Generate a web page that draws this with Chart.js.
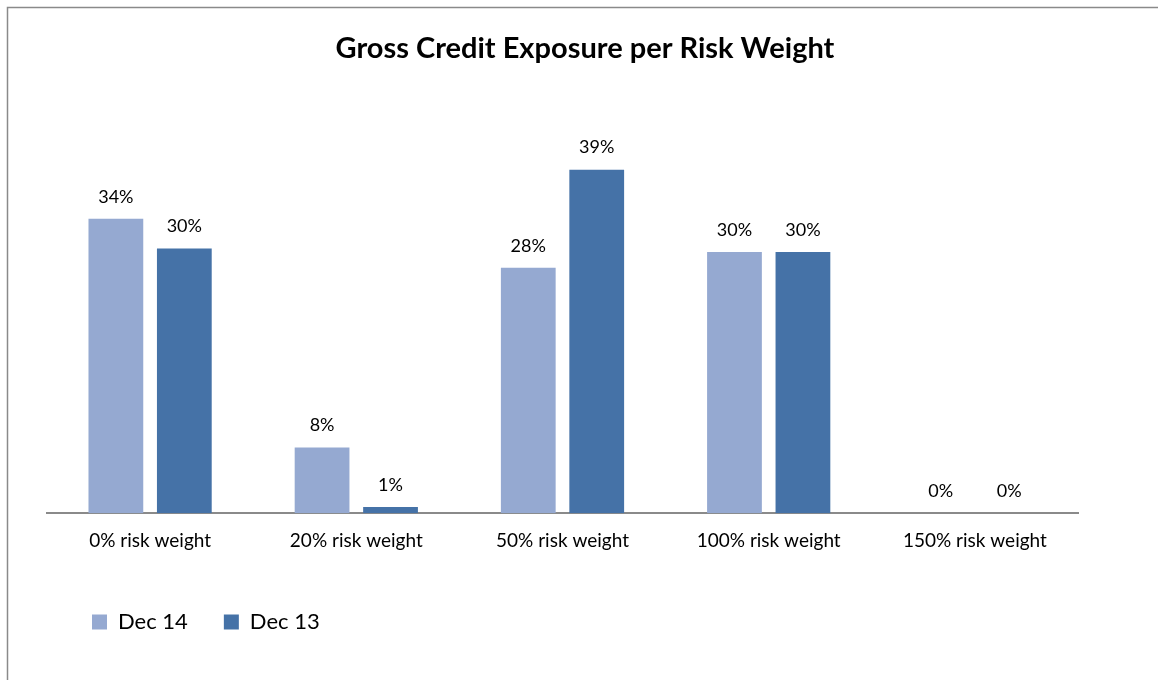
<!DOCTYPE html>
<html>
<head>
<meta charset="utf-8">
<script src="https://cdn.jsdelivr.net/npm/chart.js@4.4.1/dist/chart.umd.min.js"></script>
<style>
  html, body { margin: 0; padding: 0; background: #ffffff; }
  #wrap { width: 1158px; height: 680px; position: relative; }
</style>
</head>
<body>
<div id="wrap"><canvas id="c" width="1158" height="680"></canvas></div>
<script>
const categories = ["0% risk weight", "20% risk weight", "50% risk weight", "100% risk weight", "150% risk weight"];
const seriesNames = ["Dec 14", "Dec 13"];
const dec14 = [33.6, 7.5, 28.0, 29.8, 0];
const dec13 = [30.2, 0.7, 39.2, 29.8, 0];
const chartTitle = "Gross Credit Exposure per Risk Weight";

const FONT = "Lato, 'Open Sans', 'DejaVu Sans', sans-serif";

const borderPlugin = {
  id: 'outerBorder',
  beforeDraw(chart) {
    const ctx = chart.ctx;
    ctx.save();
    ctx.fillStyle = '#ffffff';
    ctx.fillRect(0, 0, chart.width, chart.height);
    ctx.strokeStyle = '#8a8a8a';
    ctx.lineWidth = 1.5;
    ctx.strokeRect(7.5, 7.5, 1300, 800);
    ctx.restore();
  }
};

const legendShift = {
  id: 'legendShift',
  afterLayout(chart) {
    if (chart.legend) { chart.legend.left += 9; chart.legend.right += 9; }
  }
};

const valueLabels = {
  id: 'valueLabels',
  afterDatasetsDraw(chart) {
    const ctx = chart.ctx;
    ctx.save();
    ctx.font = "18px " + FONT;
    ctx.fillStyle = '#000000';
    ctx.textAlign = 'center';
    ctx.textBaseline = 'middle';
    chart.data.datasets.forEach((ds, di) => {
      const meta = chart.getDatasetMeta(di);
      meta.data.forEach((bar, i) => {
        ctx.fillText(Math.round(ds.data[i]) + '%', bar.x, bar.y - 22);
      });
    });
    ctx.restore();
  }
};

new Chart(document.getElementById('c'), {
  type: 'bar',
  data: {
    labels: categories,
    datasets: [
      { label: seriesNames[0], data: dec14, backgroundColor: '#95a9d1', borderWidth: 0 },
      { label: seriesNames[1], data: dec13, backgroundColor: '#4572a7', borderWidth: 0 }
    ]
  },
  options: {
    responsive: false,
    animation: false,
    devicePixelRatio: 1,
    layout: { padding: { left: 47, right: 35, top: 7, bottom: 37 } },
    datasets: { bar: { categoryPercentage: 0.664, barPercentage: 0.80 } },
    scales: {
      x: {
        grid: { display: false },
        border: { display: true, color: '#8a8a8a', width: 2 },
        ticks: { color: '#000000', font: { family: FONT, size: 19 }, padding: 8, maxRotation: 0 },
        afterFit(s) { s.height += 15; }
      },
      y: { display: false, min: 0, max: 45 },
      y2: {
        position: 'right', display: true, min: 0, max: 45,
        grid: { display: false }, border: { display: false }, ticks: { display: false },
        afterFit(s) { s.width = 45; }
      }
    },
    plugins: {
      title: {
        display: true, text: chartTitle, color: '#000000',
        font: { family: FONT, size: 29, weight: 'bold', lineHeight: 1.2 },
        padding: { top: 24, bottom: 53 }
      },
      legend: {
        position: 'bottom', align: 'start',
        labels: { color: '#000000', font: { family: FONT, size: 22 }, boxWidth: 15, boxHeight: 15, padding: 36 }
      },
      tooltip: { enabled: false }
    }
  },
  plugins: [borderPlugin, legendShift, valueLabels]
});
</script>
</body>
</html>
